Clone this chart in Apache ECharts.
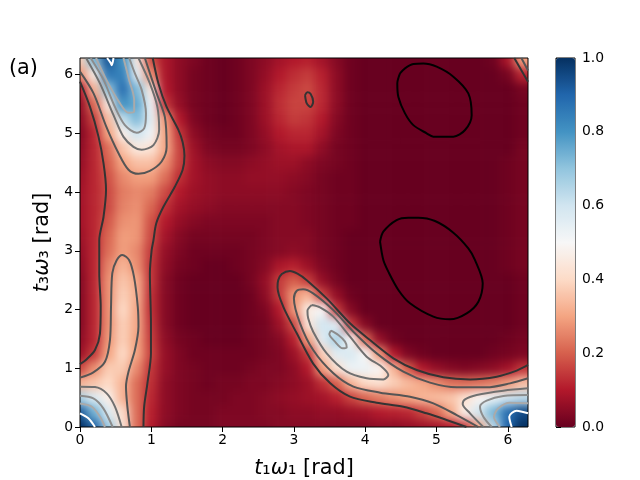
<!DOCTYPE html>
<html>
<head>
<meta charset="utf-8">
<title>(a)</title>
<script src="https://cdn.jsdelivr.net/npm/echarts@6/dist/echarts.min.js"></script>
<style>
  html, body { margin: 0; padding: 0; background: #fff; }
  #stage { position: relative; width: 640px; height: 480px; overflow: hidden; }
  #clip { position: absolute; left: 80px; top: 58px; width: 448px; height: 369px; overflow: hidden; }
  #heat { position: absolute; left: -80px; top: -58px; width: 640px; height: 480px; filter: blur(5px); }
  #main { position: absolute; left: 0; top: 0; width: 640px; height: 480px; }
</style>
</head>
<body>
<div id="stage">
  <div id="clip"><div id="heat"></div></div>
  <div id="main"></div>
</div>
<script>
var tickValues = [0, 1, 2, 3, 4, 5, 6];
var colorbarTicks = [0, 0.2, 0.4, 0.6, 0.8, 1];
var rdBu = ['#67001f', '#b2182b', '#d6604d', '#f4a582', '#fddbc7', '#f7f7f7', '#d1e5f0', '#92c5de', '#4393c3', '#2166ac', '#053061'];

// t1 step 0.2 (0 .. 6.2), t3 step 0.25, first row is t3 = 6.25, values in percent
var t1Values = [0, 0.2, 0.4, 0.6, 0.8, 1, 1.2, 1.4, 1.6, 1.8, 2, 2.2, 2.4, 2.6, 2.8, 3, 3.2, 3.4, 3.6, 3.8, 4, 4.2, 4.4, 4.6, 4.8, 5, 5.2, 5.4, 5.6, 5.8, 6, 6.2];
var t3Values = [6.25, 6, 5.75, 5.5, 5.25, 5, 4.75, 4.5, 4.25, 4, 3.75, 3.5, 3.25, 3, 2.75, 2.5, 2.25, 2, 1.75, 1.5, 1.25, 1, 0.75, 0.5, 0.25, 0];
var intensity = [
  [38,72,93,80,46,18,9,5,3,1,0,1,3,5,8,10,11,8,4,1,0,0,0,0,0,0,0,0,0,1,9,30],
  [27,46,86,84,56,27,9,5,2,1,0,1,3,6,10,13,15,11,5,1,0,0,0,0,0,0,0,0,0,0,2,12],
  [10,33,70,88,72,45,10,5,2,1,0,1,3,7,12,15,17,12,5,1,0,0,0,0,0,0,0,0,0,0,0,2],
  [6,22,45,80,76,52,14,6,2,1,0,1,3,7,13,16,16,12,5,1,0,0,0,0,0,0,0,0,0,0,0,1],
  [5,16,35,62,72,55,28,10,3,1,0,1,3,7,12,15,14,10,4,1,0,0,0,0,0,0,0,0,0,0,0,1],
  [4,12,30,47,60,52,30,14,5,2,1,1,3,6,10,12,12,8,3,1,0,0,0,0,0,0,0,0,0,0,0,1],
  [5,12,22,36,45,43,31,16,7,3,2,2,3,5,8,9,9,5,2,1,0,0,0,0,0,0,0,0,0,0,0,2],
  [6,12,20,30,35,35,27,16,8,5,4,4,5,6,7,7,5,3,2,1,0,0,0,0,0,0,0,0,0,0,1,2],
  [7,12,18,26,29,29,22,13,8,6,5,5,6,6,6,5,4,2,1,1,0,0,0,0,0,0,0,0,0,0,1,2],
  [8,12,17,24,26,24,17,10,7,6,5,5,5,5,5,4,3,2,1,1,0,0,0,0,0,0,0,0,0,0,1,2],
  [8,12,17,25,27,21,13,8,6,5,4,4,4,4,4,4,3,2,1,1,0,0,0,0,0,0,0,0,0,0,1,2],
  [8,12,19,27,28,18,10,6,4,3,3,3,3,3,4,4,3,2,1,1,0,0,0,0,0,0,0,0,0,0,1,2],
  [7,12,21,29,28,17,8,4,2,2,2,2,2,3,4,4,4,2,1,0,0,0,0,0,0,0,0,0,0,0,1,2],
  [6,12,22,29,26,15,6,3,1,1,1,1,2,3,4,5,4,2,1,0,0,0,0,0,0,0,0,0,0,0,1,2],
  [5,12,25,33,27,14,5,2,1,0,0,1,2,4,9,11,7,3,1,0,0,0,0,0,0,0,0,0,0,0,1,2],
  [4,12,27,36,31,14,4,1,0,0,0,0,2,6,15,20,15,6,2,0,0,0,0,0,0,0,0,0,0,0,0,1],
  [4,12,27,38,32,13,4,1,0,0,0,0,1,5,15,28,33,16,6,1,0,0,0,0,0,0,0,0,0,0,0,1],
  [4,12,27,40,31,13,4,1,0,0,0,0,1,3,10,28,46,50,15,4,0,0,0,0,0,0,0,0,0,0,0,1],
  [4,12,27,38,31,14,4,1,0,0,0,0,1,2,7,17,44,60,56,15,4,0,0,0,0,0,0,0,0,0,0,1],
  [5,12,28,38,30,15,5,2,1,0,0,0,1,2,4,11,30,56,66,50,22,6,1,0,0,0,0,0,0,0,1,2],
  [7,15,30,40,30,16,6,3,1,1,1,1,1,2,3,7,15,38,56,58,50,28,10,3,1,0,0,0,0,1,2,3],
  [17,27,37,37,26,14,6,3,2,1,1,1,2,3,3,5,10,29,42,53,53,49,33,20,10,6,4,3,4,5,8,14],
  [33,36,40,33,22,13,5,3,2,1,2,2,3,3,4,5,7,13,20,33,40,42,38,34,31,27,23,22,23,25,29,35],
  [66,57,47,33,22,12,5,3,2,2,2,3,3,4,5,6,7,8,11,16,21,24,27,30,33,34,36,42,49,54,60,63],
  [92,74,57,41,22,11,5,3,2,2,3,3,3,4,4,5,5,6,6,7,8,10,11,12,16,21,31,47,60,73,88,95],
  [100,91,68,43,22,10,4,2,2,2,3,3,3,3,4,4,4,4,4,4,4,5,5,6,7,8,10,15,31,63,90,100]
];

// contour paths, [t1, t3]
var loopUpperBlack = [[4.488,6.02],[4.45,5.85],[4.465,5.62],[4.558,5.34],[4.675,5.14],[4.862,5.0],[4.956,4.943],[5.236,4.943],[5.4,5.057],[5.493,5.31],[5.446,5.68],[5.236,5.965],[5.002,6.135],[4.815,6.19],[4.675,6.18],[4.558,6.107],[4.488,6.02]];
var loopLowerBlack = [[4.208,3.155],[4.254,3.326],[4.44,3.524],[4.605,3.564],[4.745,3.564],[4.979,3.507],[5.236,3.309],[5.446,3.042],[5.54,2.843],[5.648,2.446],[5.587,2.134],[5.423,1.935],[5.189,1.833],[4.956,1.879],[4.628,2.106],[4.465,2.333],[4.324,2.645],[4.254,2.843],[4.208,3.155]];
var level1Paths = [
  [[0,5.88],[0.14,5.45],[0.26,4.94],[0.33,4.49],[0.365,4.04],[0.33,3.58],[0.27,3.18],[0.27,2.62],[0.29,2.05],[0.28,1.59],[0.21,1.31],[0.09,1.15],[0,1.07]],
  [[1.02,6.283],[1.1,5.85],[1.215,5.45],[1.38,5.06],[1.44,4.85],[1.465,4.62],[1.44,4.38],[1.33,4.09],[1.17,3.75],[1.07,3.47],[1.03,3.18],[1.005,3.01],[0.98,2.62],[0.995,1.765],[0.995,1.25],[0.945,0.74],[0.9,0.35],[0.89,0]],
  [[6.283,1.056],[6.124,0.96],[5.844,0.857],[5.47,0.81],[5.096,0.846],[4.722,0.97],[4.395,1.17],[4.067,1.48],[3.787,1.765],[3.46,2.19],[3.18,2.5],[3.05,2.61],[2.945,2.656],[2.83,2.605],[2.78,2.5],[2.77,2.38],[2.85,2.05],[3.04,1.595],[3.27,1.08],[3.51,0.743],[3.787,0.516],[4.16,0.414],[4.535,0.346],[4.86,0.233],[5.14,0.12],[5.42,0]],
  [[3.156,5.65],[3.19,5.7],[3.235,5.67],[3.27,5.54],[3.235,5.45],[3.18,5.51],[3.156,5.65]],
  [[6.09,6.283],[6.283,5.88]]
];
var level2Paths = [
  [[0,6.05],[0.19,5.68],[0.37,5.11],[0.54,4.66],[0.68,4.38],[0.82,4.31],[0.98,4.36],[1.145,4.52],[1.215,4.77],[1.19,5.28],[1.075,5.68],[0.91,6.283]],
  [[0,0.84],[0.187,0.93],[0.35,1.11],[0.42,1.48],[0.435,2.05],[0.453,2.62],[0.514,2.84],[0.594,2.93],[0.69,2.84],[0.757,2.56],[0.81,2.05],[0.82,1.71],[0.77,1.31],[0.68,0.94],[0.645,0.69],[0.664,0.35],[0.7,0]],
  [[6.283,0.829],[6.03,0.743],[5.7,0.675],[5.283,0.675],[4.909,0.755],[4.535,0.942],[4.161,1.254],[3.834,1.623],[3.553,1.99],[3.27,2.276],[3.13,2.345],[3.04,2.32],[3,2.19],[3.086,1.765],[3.27,1.31],[3.553,0.914],[3.834,0.687],[4.21,0.585],[4.628,0.516],[4.956,0.403],[5.283,0.204],[5.587,0]],
  [[6.19,6.283],[6.283,6.07]]
];
var level3Paths = [
  [[0.085,6.283],[0.28,5.85],[0.47,5.31],[0.61,4.94],[0.75,4.77],[0.865,4.72],[1.03,4.8],[1.11,5.06],[1.085,5.45],[0.98,5.85],[0.82,6.283]],
  [[0,0.687],[0.21,0.68],[0.374,0.573],[0.49,0.346],[0.584,0]],
  [[3.25,2.077],[3.19,1.98],[3.2,1.85],[3.27,1.623],[3.46,1.254],[3.74,0.942],[4.02,0.829],[4.254,0.81],[4.324,0.885],[4.23,1.027],[4.02,1.197],[3.787,1.538],[3.553,1.879],[3.366,2.037],[3.25,2.077]],
  [[6.283,0.658],[5.937,0.619],[5.563,0.545],[5.4,0.471],[5.367,0.392],[5.47,0.233],[5.657,0]]
];
var level4Paths = [
  [[0.15,6.283],[0.33,5.91],[0.49,5.45],[0.63,5.14],[0.795,5.01],[0.9,5.085],[0.925,5.34],[0.865,5.74],[0.77,6.02],[0.69,6.283]],
  [[0,0.533],[0.187,0.488],[0.327,0.318],[0.458,0]],
  [[3.52,1.64],[3.497,1.583],[3.576,1.453],[3.684,1.339],[3.74,1.356],[3.717,1.453],[3.623,1.566],[3.52,1.64]],
  [[6.283,0.545],[5.937,0.528],[5.703,0.448],[5.61,0.346],[5.657,0.176],[5.774,0]]
];
var level5Paths = [
  [[0.225,6.283],[0.37,5.91],[0.56,5.51],[0.68,5.35],[0.76,5.37],[0.76,5.57],[0.69,5.91],[0.61,6.283]],
  [[0,0.4],[0.164,0.346],[0.28,0.176],[0.35,0]],
  [[6.283,0.403],[6.03,0.414],[5.867,0.318],[5.806,0.176],[5.89,0]]
];
var level6Paths = [
  [[0.38,6.283],[0.43,6.2],[0.445,6.16],[0.47,6.283]],
  [[0,0.233],[0.117,0.148],[0.21,0]],
  [[6.283,0.233],[6.124,0.278],[6.02,0.176],[6.054,0]]
];

var fontName = 'DejaVu Sans';
var plotRight = 528, plotLeft = 80, plotTop = 58, plotBottom = 427;
var tMax = 6.283;

// blurred heatmap underneath, edge rows and columns repeated so the blur does not fade at the frame
var pad = 2;
var paddedCols = t1Values.length + pad * 2;
var paddedRows = t3Values.length + pad * 2;
var heatData = [];
for (var r = 0; r < paddedRows; r++) {
  var row = intensity[Math.min(t3Values.length - 1, Math.max(0, t3Values.length - 1 - (r - pad)))];
  for (var c = 0; c < paddedCols; c++) {
    heatData.push([c, r, row[Math.min(t1Values.length - 1, Math.max(0, c - pad))]]);
  }
}
var cellW = (plotRight - plotLeft) / tMax * 0.2;
var cellH = (plotBottom - plotTop) / tMax * 0.25;
var heatChart = echarts.init(document.getElementById('heat'));
heatChart.setOption({
  animation: false,
  grid: {
    left: plotLeft - cellW * (pad + 0.5),
    top: plotBottom + cellH * (pad + 0.5) - cellH * paddedRows,
    width: cellW * paddedCols,
    height: cellH * paddedRows,
    outerBoundsMode: 'none'
  },
  xAxis: { type: 'category', show: false, data: heatData.slice(0, paddedCols).map(function (d) { return d[0]; }) },
  yAxis: { type: 'category', show: false, data: Array.from({ length: paddedRows }, function (_, i) { return i; }) },
  visualMap: { show: false, min: 0, max: 100, dimension: 2, inRange: { color: rdBu } },
  series: [{ type: 'heatmap', data: heatData, silent: true, itemStyle: { borderWidth: 0 } }]
});

function contourSeries(paths, color) {
  return paths.map(function (p) {
    return {
      type: 'line', data: p, xAxisIndex: 0, yAxisIndex: 0, showSymbol: false, silent: true,
      smooth: 0.3, clip: true, lineStyle: { color: color, width: 2 }
    };
  });
}
var series = []
  .concat(contourSeries([loopUpperBlack, loopLowerBlack], '#000000'))
  .concat(contourSeries(level1Paths, '#333333'))
  .concat(contourSeries(level2Paths, '#555555'))
  .concat(contourSeries(level3Paths, '#707070'))
  .concat(contourSeries(level4Paths, '#8c8c8c'))
  .concat(contourSeries(level5Paths, '#aaaaaa'))
  .concat(contourSeries(level6Paths, '#ffffff'));

var tickFont = { fontFamily: fontName, fontSize: 13.9, color: '#000' };
var nameRich = {
  i: { fontFamily: fontName, fontSize: 20.8, fontStyle: 'italic', color: '#000' },
  s: { fontFamily: fontName, fontSize: 20.8, color: '#000' }
};
var mainChart = echarts.init(document.getElementById('main'));
mainChart.setOption({
  animation: false,
  textStyle: { fontFamily: fontName },
  title: { text: '(a)', left: 9, top: 58, padding: 0, textStyle: { fontFamily: fontName, fontSize: 20.8, fontWeight: 'normal', color: '#000' } },
  grid: [
    { left: plotLeft, top: plotTop, width: plotRight - plotLeft, height: plotBottom - plotTop, show: true, borderColor: '#000', borderWidth: 1, backgroundColor: 'transparent', outerBoundsMode: 'none' },
    { left: 556, top: plotTop, width: 19, height: plotBottom - plotTop, show: true, borderColor: '#000', borderWidth: 1, backgroundColor: 'transparent', outerBoundsMode: 'none' }
  ],
  xAxis: [
    {
      type: 'value', gridIndex: 0, min: 0, max: tMax, splitLine: { show: false },
      axisLine: { show: false },
      axisTick: { length: 5, customValues: tickValues, lineStyle: { color: '#000' } },
      axisLabel: Object.assign({ margin: 6, customValues: tickValues }, tickFont),
      name: '{i|t}{s|\u2081}{i|\u03c9}{s|\u2081}{s| [rad]}', nameLocation: 'middle', nameGap: 31,
      nameTextStyle: { rich: nameRich }
    },
    { type: 'value', gridIndex: 1, min: 0, max: 1, show: false }
  ],
  yAxis: [
    {
      type: 'value', gridIndex: 0, min: 0, max: tMax, splitLine: { show: false },
      axisLine: { show: false },
      axisTick: { length: 5, customValues: tickValues, lineStyle: { color: '#000' } },
      axisLabel: Object.assign({ margin: 7, customValues: tickValues }, tickFont),
      name: '{i|t}{s|\u2083}{i|\u03c9}{s|\u2083}{s| [rad]}', nameLocation: 'middle', nameGap: 27, nameRotate: 90,
      nameTextStyle: { rich: nameRich }
    },
    {
      type: 'value', gridIndex: 1, min: 0, max: 1, interval: 0.2, position: 'right', splitLine: { show: false },
      axisLine: { show: false },
      axisTick: { length: 5, lineStyle: { color: '#000' } },
      axisLabel: Object.assign({ margin: 7, customValues: colorbarTicks, formatter: function (v) { return v.toFixed(1); } }, tickFont)
    }
  ],
  visualMap: {
    show: true, seriesIndex: [], min: 0, max: 1, left: 556, top: plotTop, padding: 0,
    itemWidth: 19, itemHeight: plotBottom - plotTop, calculable: false, text: null, showLabel: false,
    inRange: { color: rdBu }
  },
  series: series
});
</script>
</body>
</html>
